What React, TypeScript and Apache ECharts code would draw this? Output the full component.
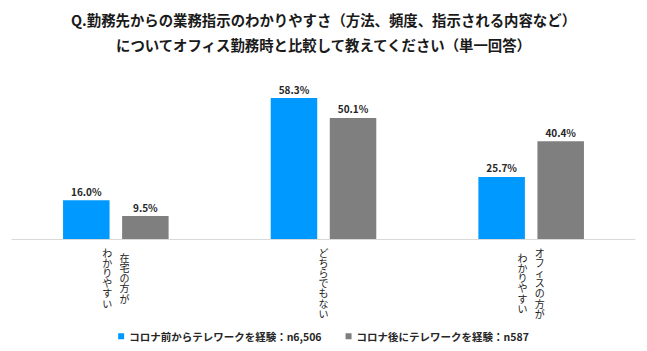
import React, { useEffect, useRef } from "react";
import * as echarts from "echarts";

const titleLines = [
  "Q.勤務先からの業務指示のわかりやすさ（方法、頻度、指示される内容など）",
  "についてオフィス勤務時と比較して教えてください（単一回答）",
];
const categories = ["在宅の方がわかりやすい", "どちらでもない", "オフィスの方がわかりやすい"];
// vertical label columns (right column is read first)
const labelRightColumn = ["在宅の方が", "どちらでもない", "オフィスの方が"];
const labelLeftColumn = ["わかりやすい", "", "わかりやすい"];
const seriesNames = ["コロナ前からテレワークを経験：n6,506", "コロナ後にテレワークを経験：n587"];
const beforeValues = [16.0, 58.3, 25.7];
const afterValues = [9.5, 50.1, 40.4];

const BLUE = "#0099FF";
const GRAY = "#7F7F7F";
const JP_FONT = "'Noto Sans CJK JP', sans-serif";
const ROW_H = 10.2;
const COL_SHIFT = 8.7;

function buildAxisLabel(columns: string[], side: "left" | "right") {
  const rich: Record<string, any> = {};
  columns.forEach((txt, i) => {
    const other = side === "right" ? labelLeftColumn[i] : labelRightColumn[i];
    const maxLen = Math.max(txt.length, other.length);
    const offset = ((maxLen - txt.length) * ROW_H) / 2;
    const hasPair = other.length > 0 && txt.length > 0;
    const p = hasPair ? COL_SHIFT * 2 : 0;
    rich["s" + i] = { lineHeight: Math.max(offset, 0.01), fontSize: 1 };
    rich["c" + i] = {
      fontFamily: JP_FONT,
      fontSize: 10,
      lineHeight: ROW_H,
      color: "#1a1a1a",
      padding: side === "right" ? [0, 0, 0, p] : [0, p, 0, 0],
    };
  });
  const formatter = (_v: string, i: number) => {
    const txt = columns[i];
    if (!txt) return "";
    const other = side === "right" ? labelLeftColumn[i] : labelRightColumn[i];
    const maxLen = Math.max(txt.length, other.length);
    const body = "{c" + i + "|" + Array.from(txt).join("\n") + "}";
    if (maxLen > txt.length) return "{s" + i + "| }\n" + body;
    return body;
  };
  return { formatter, rich };
}

export default function App() {
  const ref = useRef<HTMLDivElement>(null);
  useEffect(() => {
    if (!ref.current) return;
    const chart = echarts.init(ref.current, null, { renderer: "svg" });
    const right = buildAxisLabel(labelRightColumn, "right");
    const left = buildAxisLabel(labelLeftColumn, "left");
    const valueLabel = {
      show: true,
      position: "top" as const,
      distance: 4,
      formatter: (p: any) => p.value.toFixed(1) + "%",
      fontFamily: JP_FONT,
      fontWeight: "bold" as const,
      fontSize: 10,
      color: "#262626",
    };
    chart.setOption({
      animation: false,
      backgroundColor: "#ffffff",
      title: {
        text: titleLines.join("\n"),
        left: "center",
        top: 7,
        padding: 0,
        textStyle: {
          fontFamily: JP_FONT,
          fontWeight: "bold",
          fontSize: 14.4,
          lineHeight: 25,
          color: "#1a1a1a",
        },
      },
      legend: {
        data: seriesNames,
        left: "center",
        top: 326,
        icon: "rect",
        itemWidth: 6,
        itemHeight: 6,
        itemGap: 24,
        textStyle: {
          fontFamily: JP_FONT,
          fontWeight: "bold",
          fontSize: 10.5,
          color: "#262626",
        },
      },
      grid: { left: 12, right: 12, top: 94, bottom: 112, containLabel: false },
      xAxis: [
        {
          type: "category",
          data: categories,
          position: "bottom",
          offset: 0,
          axisLine: { show: true, lineStyle: { color: "#D9D9D9", width: 1 } },
          axisTick: { show: false },
          axisLabel: {
            interval: 0,
            margin: 8,
            formatter: right.formatter,
            rich: right.rich,
          },
        },
        {
          type: "category",
          data: categories,
          position: "bottom",
          offset: 0,
          axisLine: { show: false },
          axisTick: { show: false },
          axisLabel: {
            interval: 0,
            margin: 8,
            formatter: left.formatter,
            rich: left.rich,
          },
        },
      ],
      yAxis: {
        type: "value",
        min: 0,
        max: 60,
        show: false,
        splitLine: { show: false },
      },
      series: [
        {
          name: seriesNames[0],
          type: "bar",
          xAxisIndex: 0,
          data: beforeValues,
          barWidth: 46.5,
          barGap: "27%",
          itemStyle: { color: BLUE },
          label: valueLabel,
        },
        {
          name: seriesNames[1],
          type: "bar",
          xAxisIndex: 0,
          data: afterValues,
          barWidth: 46.5,
          barGap: "27%",
          itemStyle: { color: GRAY },
          label: valueLabel,
        },
      ],
    });
    return () => chart.dispose();
  }, []);
  return <div ref={ref} style={{ width: 647, height: 351, position: "absolute", left: 0, top: 0 }} />;
}
